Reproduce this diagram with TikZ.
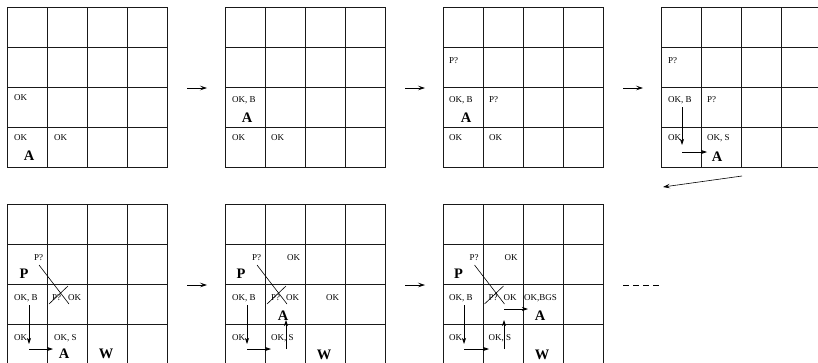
\documentclass[tikz,border=0pt]{standalone}
\usepackage{fontspec}
\setmainfont{Liberation Serif}
\usetikzlibrary{arrows.meta}
\tikzset{
  gridl/.style={line width=1pt, black!90},
  lbl/.style={font=\fontsize{9}{9}\selectfont, inner sep=0pt, anchor=base west},
  big/.style={font=\fontsize{14.5}{14.5}\selectfont\bfseries, inner sep=0pt, anchor=base},
  mv/.style={line width=0.7pt, -{Stealth[length=6pt,width=4pt,inset=1.5pt]}},
  nx/.style={line width=0.6pt, -{Stealth[length=7pt,width=4.5pt,inset=3pt]}},
  xline/.style={line width=0.6pt}
}
\newcommand{\wumpusgrid}[2]{%
  \draw[gridl] (#1,#2) rectangle ++(160,160);
  \foreach \k in {40,80,120} {
    \draw[gridl] (#1+\k,#2) -- ++(0,160);
    \draw[gridl] (#1,#2+\k) -- ++(160,0);
  }}
\begin{document}
\begin{tikzpicture}[x=1pt,y=-1pt]
\useasboundingbox (0,0) rectangle (818,362);
\clip (0,0) rectangle (818,362);
% grids
\wumpusgrid{7.5}{7.5}
\wumpusgrid{225.5}{7.5}
\wumpusgrid{443.5}{7.5}
\wumpusgrid{661.5}{7.5}
\wumpusgrid{7.5}{204.5}
\wumpusgrid{225.5}{204.5}
\wumpusgrid{443.5}{204.5}

% step arrows between grids
\coordinate (s1a) at (187,88); \coordinate (s1b) at (207,88);
\coordinate (s2a) at (405,88); \coordinate (s2b) at (425,88);
\coordinate (s3a) at (623,88); \coordinate (s3b) at (643,88);
\coordinate (s4a) at (742,176); \coordinate (s4b) at (663,187);
\coordinate (s5a) at (187,285); \coordinate (s5b) at (207,285);
\coordinate (s6a) at (405,285); \coordinate (s6b) at (425,285);
\coordinate (dda) at (623,285); \coordinate (ddb) at (660,285);
\draw[nx] (s1a) -- (s1b);
\draw[nx] (s2a) -- (s2b);
\draw[nx] (s3a) -- (s3b);
\draw[nx] (s4a) -- (s4b);
\draw[nx] (s5a) -- (s5b);
\draw[nx] (s6a) -- (s6b);
\draw[line width=0.6pt, dash pattern=on 6pt off 4pt] (dda) -- (ddb);

% grid 1
\node[lbl] (g1a) at (14,100) {OK};
\node[lbl] (g1b) at (14,140) {OK};
\node[lbl] (g1c) at (54,140) {OK};
\node[big] (g1A) at (29,160.6) {A};

% grid 2
\node[lbl] (g2a) at (232,102) {OK, B};
\node[big] (g2A) at (247,122.6) {A};
\node[lbl] (g2b) at (232,140) {OK};
\node[lbl] (g2c) at (271,140) {OK};

% grid 3
\node[lbl] (g3p) at (449,63) {P?};
\node[lbl] (g3a) at (449,102) {OK, B};
\node[big] (g3A) at (466,122.6) {A};
\node[lbl] (g3q) at (489,102) {P?};
\node[lbl] (g3b) at (449,140) {OK};
\node[lbl] (g3c) at (489,140) {OK};

% grid 4
\node[lbl] (g4p) at (668,63) {P?};
\node[lbl] (g4a) at (668,102) {OK, B};
\node[lbl] (g4q) at (707,102) {P?};
\node[lbl] (g4b) at (668,140) {OK};
\node[lbl] (g4c) at (707,140) {OK, S};
\node[big] (g4A) at (717,161.6) {A};
\coordinate (g4m1) at (682,107); \coordinate (g4m2) at (682,145);
\coordinate (g4m3) at (682,152); \coordinate (g4m4) at (707,152);
\draw[mv] (g4m1) -- (g4m2);
\draw[mv] (g4m3) -- (g4m4);

% grid 5
\node[lbl] (g5p) at (34,260) {P?};
\node[big] (g5P) at (24,278.6) {P};
\node[lbl] (g5a) at (14,300) {OK, B};
\node[lbl] (g5q) at (52,300) {P?};
\node[lbl] (g5o) at (68,300) {OK};
\node[lbl] (g5b) at (14,340) {OK};
\node[lbl] (g5c) at (54,340) {OK, S};
\node[big] (g5A) at (64,358.6) {A};
\node[big] (g5W) at (106,358.6) {W};
\coordinate (g5l1) at (39,265); \coordinate (g5l2) at (69,304);
\coordinate (g5l3) at (49,304); \coordinate (g5l4) at (68,286);
\draw[xline] (g5l1) -- (g5l2);
\draw[xline] (g5l3) -- (g5l4);
\coordinate (g5m1) at (29,305); \coordinate (g5m2) at (29,344);
\coordinate (g5m3) at (29,349); \coordinate (g5m4) at (53,349);
\draw[mv] (g5m1) -- (g5m2);
\draw[mv] (g5m3) -- (g5m4);

% grid 6
\node[lbl] (g6p) at (252,260) {P?};
\node[big] (g6P) at (241,278.6) {P};
\node[lbl] (g6k) at (287,260) {OK};
\node[lbl] (g6a) at (232,300) {OK, B};
\node[lbl] (g6q) at (271,300) {P?};
\node[lbl] (g6o) at (286,300) {OK};
\node[lbl] (g6r) at (326,300) {OK};
\node[big] (g6A) at (283,320.6) {A};
\node[lbl] (g6b) at (232,340) {OK};
\node[lbl] (g6c) at (271,340) {OK, S};
\node[big] (g6W) at (324,359.6) {W};
\coordinate (g6l1) at (257,265); \coordinate (g6l2) at (287,304);
\coordinate (g6l3) at (267,304); \coordinate (g6l4) at (286,286);
\draw[xline] (g6l1) -- (g6l2);
\draw[xline] (g6l3) -- (g6l4);
\coordinate (g6m1) at (247,305); \coordinate (g6m2) at (247,344);
\coordinate (g6m3) at (247,349); \coordinate (g6m4) at (271,349);
\coordinate (g6m5) at (286,349); \coordinate (g6m6) at (286,320);
\draw[mv] (g6m1) -- (g6m2);
\draw[mv] (g6m3) -- (g6m4);
\draw[mv] (g6m5) -- (g6m6);

% grid 7
\node[lbl] (g7p) at (469.5,260) {P?};
\node[big] (g7P) at (458.5,278.6) {P};
\node[lbl] (g7k) at (504.5,260) {OK};
\node[lbl] (g7a) at (449,300) {OK, B};
\node[lbl] (g7q) at (488.5,300) {P?};
\node[lbl] (g7o) at (503.5,300) {OK};
\node[lbl] (g7r) at (524,300) {OK,BGS};
\node[big] (g7A) at (540,320.6) {A};
\node[lbl] (g7b) at (449,340) {OK};
\node[lbl] (g7c) at (488.5,340) {OK, S};
\node[big] (g7W) at (542,359.6) {W};
\coordinate (g7l1) at (474.5,265); \coordinate (g7l2) at (504.5,304);
\coordinate (g7l3) at (484.5,304); \coordinate (g7l4) at (503.5,286);
\draw[xline] (g7l1) -- (g7l2);
\draw[xline] (g7l3) -- (g7l4);
\coordinate (g7m1) at (464,305); \coordinate (g7m2) at (464,344);
\coordinate (g7m3) at (464,349); \coordinate (g7m4) at (489,349);
\coordinate (g7m5) at (504,349); \coordinate (g7m6) at (504,320);
\coordinate (g7m7) at (504,309); \coordinate (g7m8) at (528,309);
\draw[mv] (g7m1) -- (g7m2);
\draw[mv] (g7m3) -- (g7m4);
\draw[mv] (g7m5) -- (g7m6);
\draw[mv] (g7m7) -- (g7m8);
\end{tikzpicture}
\end{document}
